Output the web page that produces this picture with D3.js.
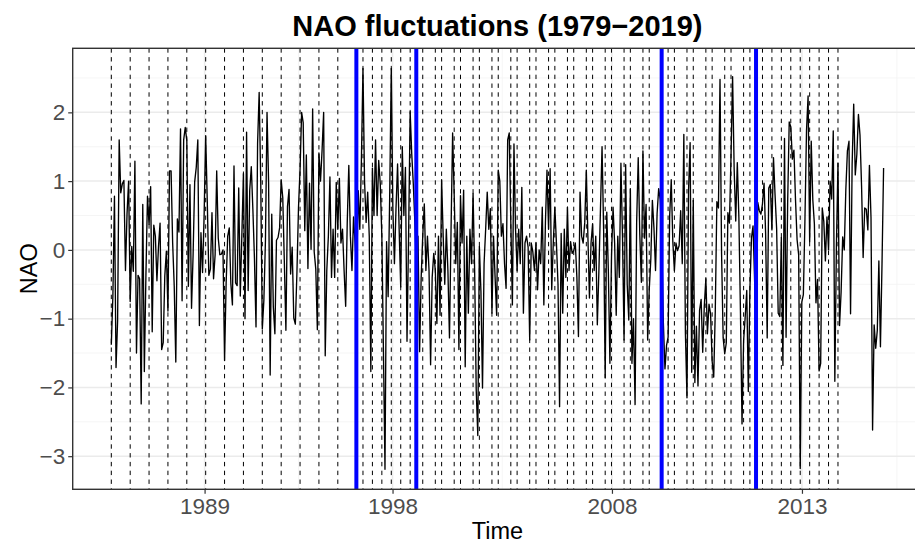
<!DOCTYPE html>
<html>
<head>
<meta charset="utf-8">
<script src="https://cdn.jsdelivr.net/npm/d3@7"></script>
<style>
  body { margin: 0; background: #fff; }
  svg { display: block; font-family: Arial, "Liberation Sans", sans-serif; }
</style>
</head>
<body>
<svg id="chart" width="915" height="543"></svg>
<script>
// monthly NAO index, Jan 1979 .. Dec 2019 (one row per year)
const nao = [
  -1.38,-0.67, 0.78,-1.71,-1.03, 1.60, 0.83, 0.96, 1.01,-0.30, 0.53, 1.00, // 1979
  -0.75, 0.05,-0.31, 1.29,-1.50,-0.37,-0.42,-2.24, 0.66,-1.77,-0.37, 0.78, // 1980
   0.37, 0.92,-1.19, 0.36, 0.20,-0.45, 0.05, 0.39,-1.45,-1.35,-0.38,-0.02, // 1981
  -0.89, 1.15, 1.15, 0.10,-0.53,-1.63, 0.45, 0.26, 1.76,-0.74, 1.60, 1.78, // 1982
   1.59,-0.53, 0.95,-0.85,-0.07, 0.99, 1.20, 1.60,-1.10, 0.25,-0.33, 0.50, // 1983
   1.66, 0.72,-0.37,-0.28, 0.54,-0.42,-0.07, 1.15, 0.17,-0.07,-0.06, 0.00, // 1984
  -1.61,-0.49, 0.20, 0.32,-0.49,-0.80, 1.22,-0.48,-0.52, 0.90,-0.67, 0.22, // 1985
   1.11,-1.00, 1.71,-0.59, 0.87, 1.21, 0.59,-0.12,-1.12, 1.55, 2.29, 0.99, // 1986
  -1.15,-0.73, 0.14, 2.00, 0.98,-1.82, 0.52,-0.83,-1.22, 0.14, 0.18, 0.32, // 1987
   1.02, 0.76,-0.17,-1.17, 0.63, 0.88,-0.35, 0.04,-0.99,-1.08,-0.34, 0.61, // 1988
   1.17, 2.00, 1.85, 0.28, 1.38,-0.27, 0.97, 0.01, 2.05,-0.03,-0.28,-1.16, // 1989
   1.41, 1.00, 1.45, 2.00,-1.54,-0.30, 0.20, 1.06,-0.40, 0.30,-0.40, 0.98, // 1990
   0.30, 1.04, 0.10, 0.30,-0.30,-0.82, 0.40, 1.23, 0.20,-0.30, 0.48, 0.10, // 1991
  -0.30, 0.86, 0.30, 1.30, 2.64, 1.00, 0.40, 0.84, 0.20,-1.77, 1.19, 0.50, // 1992
   1.60, 0.50, 1.30, 0.96, 0.20,-1.45,-3.19, 0.12,-0.68, 0.80, 2.64, 0.60, // 1993
  -0.20, 0.60, 1.25, 0.30,-0.54, 1.50, 0.50, 1.20,-1.33, 0.20, 2.01, 1.40, // 1994
   0.96, 0.40,-0.30, 0.20,-1.48,-0.40, 0.20, 0.67,-0.30, 0.20,-0.30,-1.67, // 1995
  -0.40,-0.05,-0.30,-1.07, 0.20,-0.95, 1.02, 0.20,-0.50, 0.30,-0.30,-1.28, // 1996
   0.30, 1.70, 0.80,-0.20, 0.40,-1.45, 0.79, 0.10, 0.87,-1.70, 0.20,-0.92, // 1997
   0.30,-0.20, 0.82,-0.30,-2.03,-2.70, 0.05,-0.60,-2.01,-0.20, 0.30, 0.84, // 1998
   0.30, 0.60,-0.92, 0.20,-0.40,-0.95, 1.16, 1.00, 0.20, 0.38,-0.20,-0.56, // 1999
   1.60, 1.70, 0.40,-0.80, 1.54, 0.30,-0.30, 0.30,-0.20, 0.91,-0.92, 0.10, // 2000
   0.20, 0.04,-1.31, 0.10,-0.03,-0.30, 0.10,-0.58, 0.00,-0.20, 0.62,-0.80, // 2001
   0.40, 1.16, 0.30, 1.18,-0.58, 0.10, 0.62, 0.10,-0.50,-2.28, 0.24,-0.92, // 2002
   0.30,-0.40, 0.62,-0.30, 0.12,-0.05,-0.01, 0.10,-0.40,-1.26, 0.84, 0.20, // 2003
   0.10, 0.40, 1.16, 0.20,-0.70, 0.10, 0.38,-0.30, 0.20,-1.09,-0.30, 0.60, // 2004
   1.50, 0.30,-1.86, 0.55,-0.30,-1.65,-0.10, 0.62, 0.10,-0.95, 0.20,-0.40, // 2005
   1.26, 0.20,-1.31, 1.24,-0.50,-1.02, 0.89,-1.65,-1.00,-2.25, 0.40, 1.34, // 2006
   0.22,-0.47, 1.44, 0.17, 0.66,-1.31,-0.58,-0.14, 0.72, 0.32,-0.30, 0.53, // 2007
   0.89, 0.73, 0.08,-1.07,-1.73,-1.39,-1.27, 0.50, 1.02, 0.12,-0.30, 0.10, // 2008
  -0.01, 0.06, 0.57,-0.20, 1.68,-1.21,-2.15, 0.87, 1.56,-1.78, 0.72,-1.93, // 2009
  -1.11,-1.98,-0.88,-0.72,-1.49,-0.82,-0.42,-1.22,-0.79,-0.93,-1.62,-1.85, // 2010
  -0.88, 0.70, 0.61, 2.48,-0.06,-1.28,-1.51,-1.35, 0.54, 0.39, 1.36, 2.52, // 2011
   1.17, 0.42, 1.27, 0.47,-0.91,-2.53,-1.32,-0.98,-0.59,-2.06,-0.58, 0.17, // 2012
   0.35,-0.45,-1.61, 0.69, 0.57, 0.52, 0.67, 0.97, 0.24,-1.28, 0.90, 0.95, // 2013
   0.29, 1.34, 0.80, 0.31,-0.92,-0.97, 0.18,-1.68, 1.62,-1.27, 0.68, 1.86, // 2014
   1.79, 1.32, 1.45, 0.73, 0.15,-0.07,-3.18,-0.76,-0.65, 0.44, 1.74, 2.24, // 2015
   0.12, 1.58, 0.73, 0.38,-0.77,-0.43,-1.76,-1.65, 0.61, 0.41,-0.16, 0.48, // 2016
   0.00, 1.00, 0.74, 1.73,-1.91, 0.05, 1.26,-1.10,-0.61, 0.19, 0.00, 0.88, // 2017
   1.44, 1.58,-0.93, 1.24, 2.12, 1.09, 1.39, 1.97, 1.67, 0.93,-0.11, 0.61, // 2018
   0.59, 0.29, 1.23, 0.47,-2.62,-1.09,-1.43,-1.17,-0.16,-1.41,-0.20, 1.19  // 2019
];

// x axis: breaks (in month index) and the labels shown under them
const xTickAt = [59.3, 178.8, 318.3, 439.1];
const xTickLabels = ["1989", "1998", "2008", "2013"];
const yTicks = [-3, -2, -1, 0, 1, 2];

// vertical marker lines, month index
const dashedAt = [0, 12, 24, 36, 48, 60, 72, 84, 96, 108, 120, 132, 144,
  160, 166, 172, 178, 184, 190, 198,
  206, 210, 218, 222, 230, 234, 242, 246, 254, 258, 266, 270, 278, 282,
  290, 294, 302, 306, 314, 318, 326, 330, 338, 342,
  354, 358, 366, 370, 378, 382, 390, 394, 402, 406,
  414, 420, 426, 432, 438, 444, 450, 456, 462];
const blueAt = [155.8, 193.9, 349.9, 409.9];

/* */
/* Layout and scales */
/* */
const svg = d3.select("#chart");
const panel = { left: 72.7, top: 48.3, width: 849.5, height: 441 };

const expand = (lo, hi) => { const p = (hi - lo) * 0.05; return [lo - p, hi + p]; };

const x = d3.scaleLinear()
  .domain(expand(0, nao.length - 1))
  .range([panel.left, panel.left + panel.width]);
const y = d3.scaleLinear()
  .domain(expand(d3.min(nao), d3.max(nao)))
  .range([panel.top + panel.height, panel.top]);

svg.append("defs").append("clipPath").attr("id", "clip")
  .append("rect")
  .attr("x", panel.left).attr("y", panel.top)
  .attr("width", panel.width).attr("height", panel.height);

const g = svg.append("g").attr("clip-path", "url(#clip)");

/* */
/* Grid */
/* */
const xMinor = [xTickAt[0] - (xTickAt[1] - xTickAt[0]) / 2];
for (let i = 1; i < xTickAt.length; i++) xMinor.push((xTickAt[i - 1] + xTickAt[i]) / 2);
xMinor.push(xTickAt[xTickAt.length - 1] + (xTickAt[xTickAt.length - 1] - xTickAt[xTickAt.length - 2]) / 2);
const yMinor = yTicks.map(d => d + 0.5).concat([yTicks[0] - 0.5]);

g.selectAll(".xminor").data(xMinor).join("line")
  .attr("x1", d => x(d)).attr("x2", d => x(d))
  .attr("y1", panel.top).attr("y2", panel.top + panel.height)
  .attr("stroke", "#F2F2F2").attr("stroke-width", 0.8);
g.selectAll(".yminor").data(yMinor).join("line")
  .attr("x1", panel.left).attr("x2", panel.left + panel.width)
  .attr("y1", d => y(d)).attr("y2", d => y(d))
  .attr("stroke", "#F2F2F2").attr("stroke-width", 0.8);
g.selectAll(".xmajor").data(xTickAt).join("line")
  .attr("x1", d => x(d)).attr("x2", d => x(d))
  .attr("y1", panel.top).attr("y2", panel.top + panel.height)
  .attr("stroke", "#EBEBEB").attr("stroke-width", 1.5);
g.selectAll(".ymajor").data(yTicks).join("line")
  .attr("x1", panel.left).attr("x2", panel.left + panel.width)
  .attr("y1", d => y(d)).attr("y2", d => y(d))
  .attr("stroke", "#EBEBEB").attr("stroke-width", 1.5);

/* */
/* Series and marker lines */
/* */
const line = d3.line().x((d, i) => x(i)).y(d => y(d));
g.append("path").datum(nao)
  .attr("d", line)
  .attr("fill", "none")
  .attr("stroke", "#000")
  .attr("stroke-width", 1.35)
  .attr("stroke-linejoin", "round");

g.selectAll(".dash").data(dashedAt).join("line")
  .attr("x1", d => x(d)).attr("x2", d => x(d))
  .attr("y1", panel.top).attr("y2", panel.top + panel.height)
  .attr("stroke", "#000").attr("stroke-width", 1)
  .attr("stroke-dasharray", "4.4,4.4");

g.selectAll(".blue").data(blueAt).join("line")
  .attr("x1", d => x(d)).attr("x2", d => x(d))
  .attr("y1", panel.top).attr("y2", panel.top + panel.height)
  .attr("stroke", "#0000FF").attr("stroke-width", 4);

// panel border (right side falls outside the picture)
svg.append("rect")
  .attr("x", panel.left).attr("y", panel.top)
  .attr("width", panel.width).attr("height", panel.height)
  .attr("fill", "none").attr("stroke", "#333333").attr("stroke-width", 1.4);

/* */
/* Axes */
/* */
const xAxis = svg.append("g")
  .attr("transform", `translate(0,${panel.top + panel.height})`)
  .call(d3.axisBottom(x).tickValues(xTickAt)
    .tickFormat((d, i) => xTickLabels[i]).tickSize(4.5).tickPadding(4));
const yAxis = svg.append("g")
  .attr("transform", `translate(${panel.left},0)`)
  .call(d3.axisLeft(y).tickValues(yTicks)
    .tickFormat(d => d < 0 ? "\u2212" + Math.abs(d) : d).tickSize(4.5).tickPadding(3));

[xAxis, yAxis].forEach(a => {
  a.select(".domain").remove();
  a.selectAll(".tick line").attr("stroke", "#333333").attr("stroke-width", 1.2);
  a.selectAll(".tick text").attr("fill", "#4D4D4D")
    .style("font-size", "22.5px").style("font-family", "Arial, 'Liberation Sans', sans-serif");
});

svg.append("text")
  .attr("x", panel.left + panel.width / 2).attr("y", 539)
  .attr("text-anchor", "middle").style("font-size", "23.5px").attr("fill", "#000")
  .text("Time");
svg.append("text")
  .attr("transform", `translate(37,${panel.top + panel.height / 2}) rotate(-90)`)
  .attr("text-anchor", "middle").style("font-size", "23.5px").attr("fill", "#000")
  .text("NAO");
svg.append("text")
  .attr("x", panel.left + panel.width / 2).attr("y", 36)
  .attr("text-anchor", "middle").style("font-size", "29px").style("font-weight", "bold")
  .attr("fill", "#000")
  .text("NAO fluctuations (1979\u22122019)");
</script>
</body>
</html>
